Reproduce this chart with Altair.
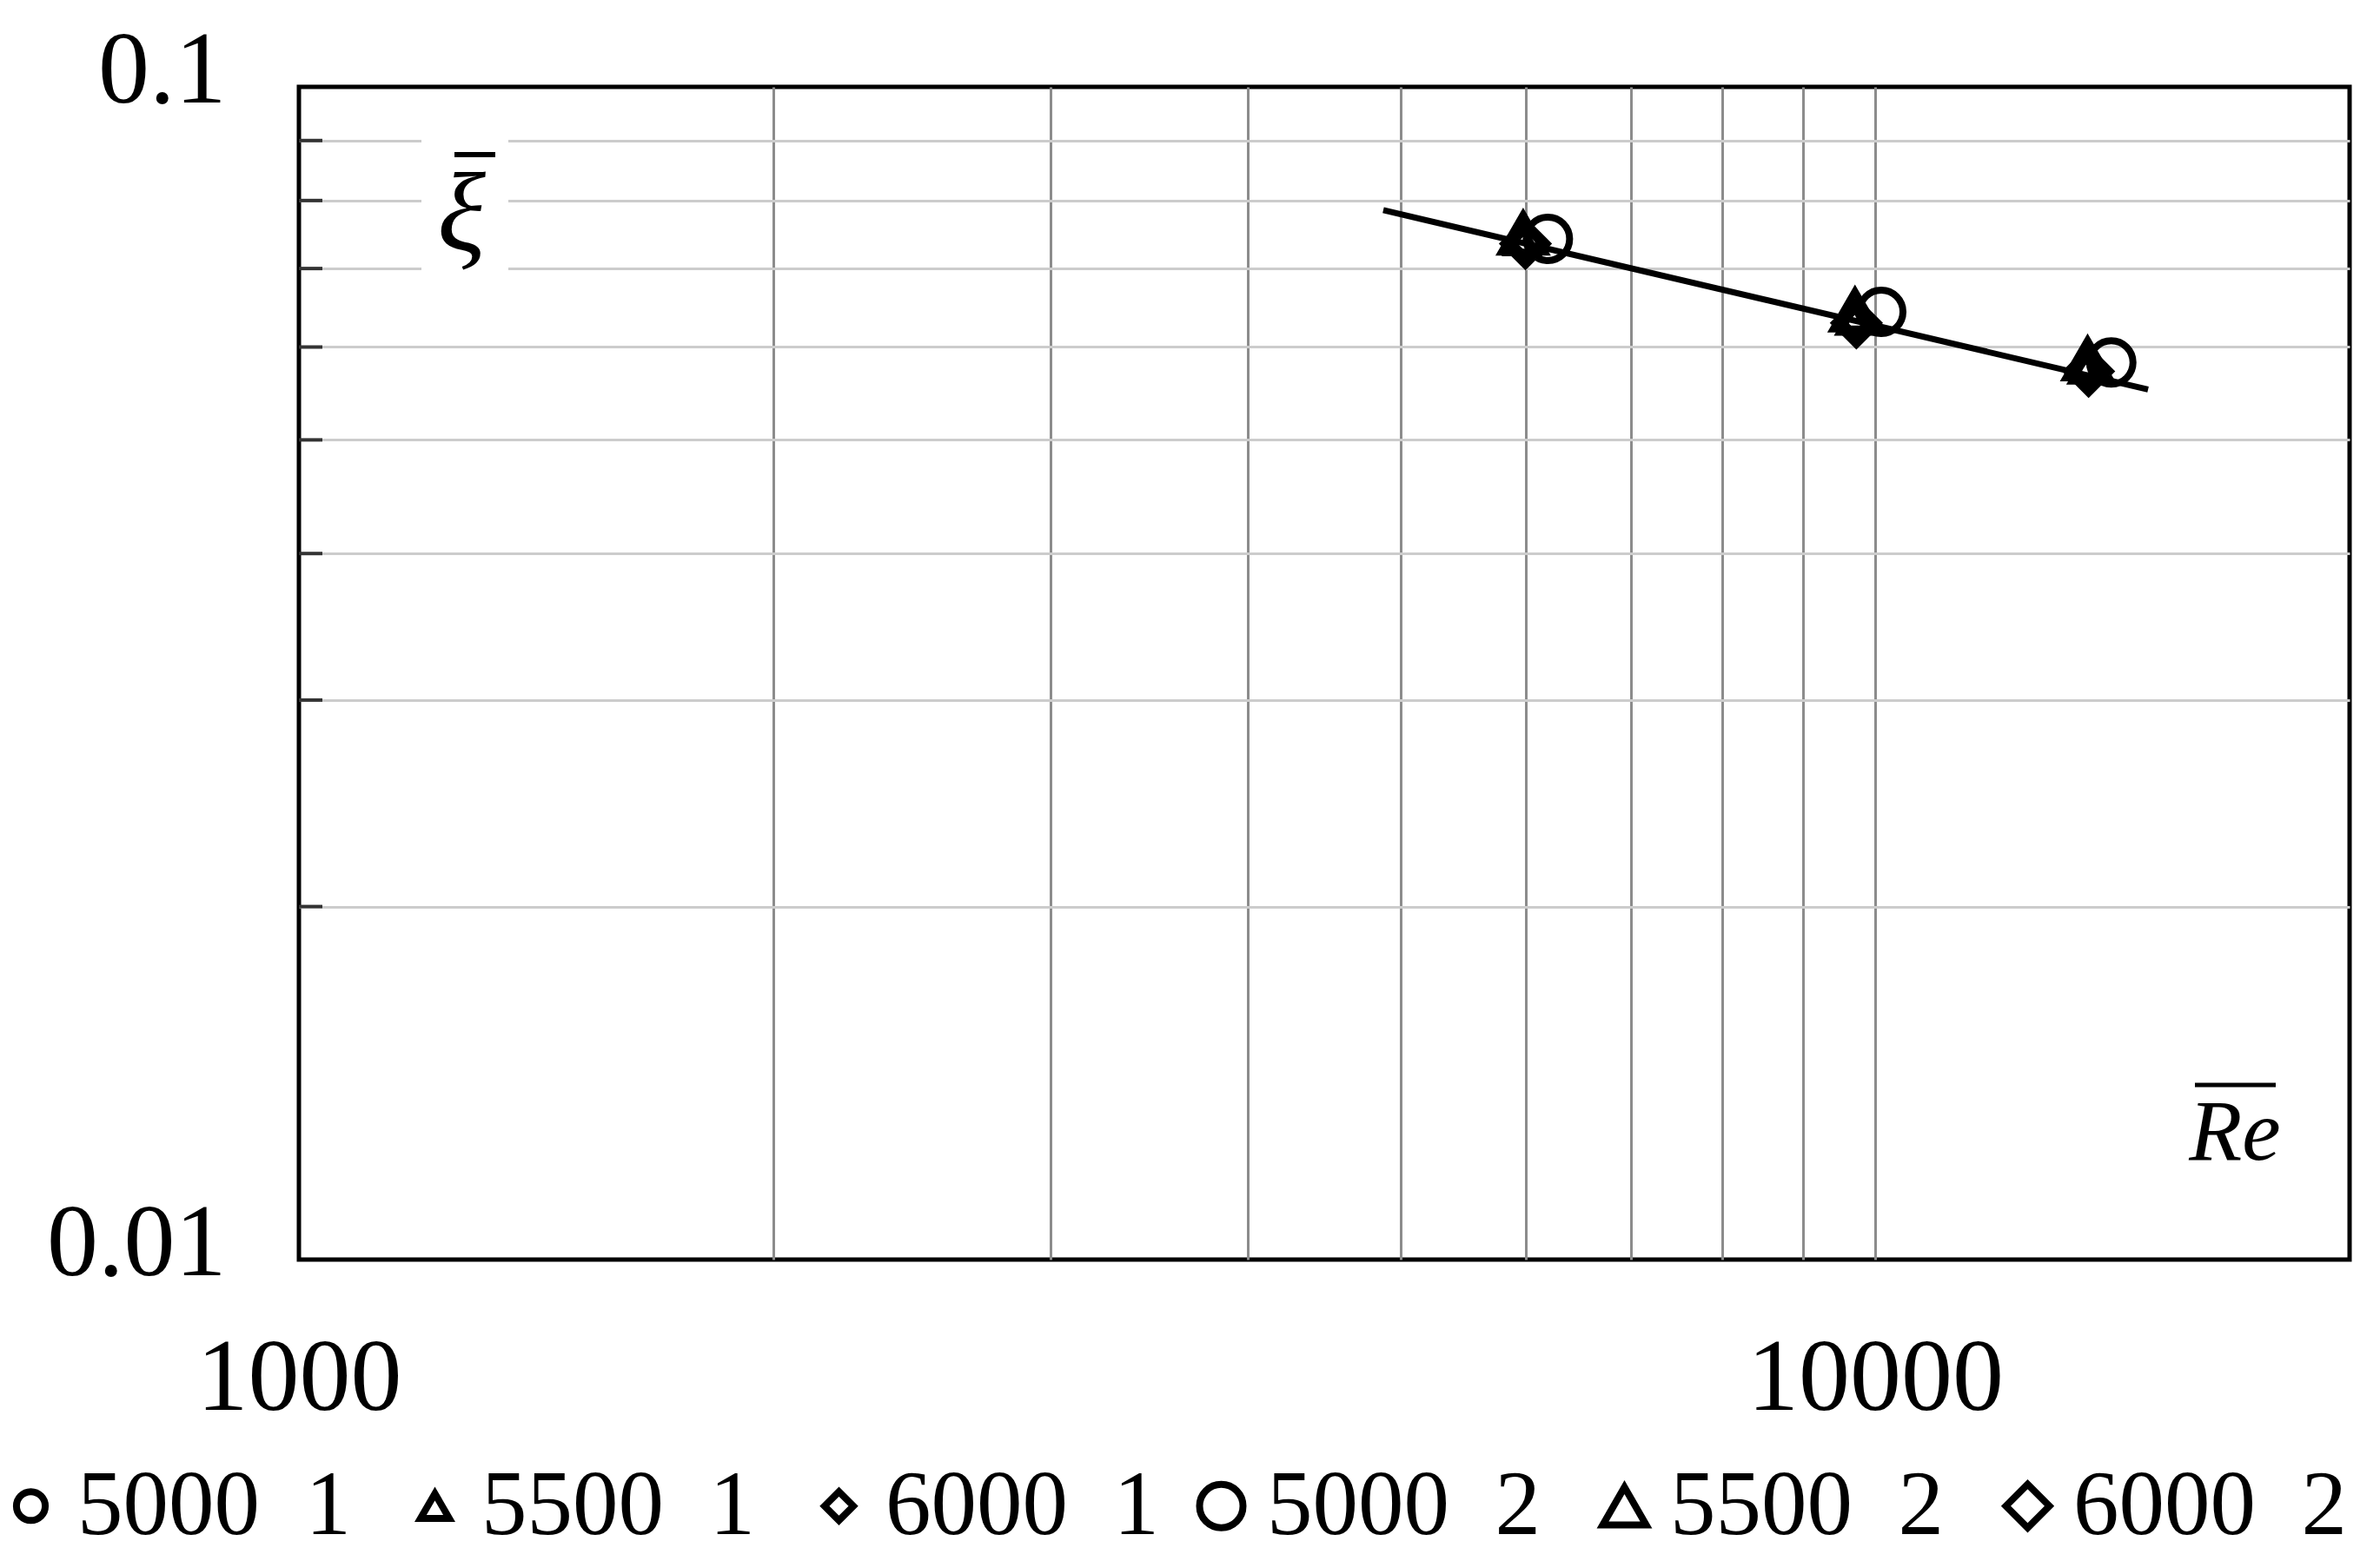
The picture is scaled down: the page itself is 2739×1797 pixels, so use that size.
import altair as alt
import pandas as pd

# ---- data ----
series_set1 = ["5000\u20021", "5500\u20021", "6000\u20021"]
series_set2 = ["5000\u20022", "5500\u20022", "6000\u20022"]
shapes_set = ["circle", "triangle-up", "diamond"]

re_5000_1 = [5990, 9720, 13650]
xi_5000_1 = [0.0737, 0.0631, 0.0573]
re_5500_1 = [5970, 9700, 13620]
xi_5500_1 = [0.0740, 0.0633, 0.0575]
re_6000_1 = [6010, 9740, 13670]
xi_6000_1 = [0.0736, 0.0630, 0.0572]
re_5000_2 = [6200, 10090, 14120]
xi_5000_2 = [0.0742, 0.0643, 0.0582]
re_5500_2 = [5980, 9710, 13640]
xi_5500_2 = [0.0750, 0.0645, 0.0586]
re_6000_2 = [6000, 9730, 13660]
xi_6000_2 = [0.0735, 0.0629, 0.0572]

re_fit = [4875, 14900]
xi_fit = [0.0785, 0.0552]

x_grid_vals = [1000, 2000, 3000, 4000, 5000, 6000, 7000, 8000, 9000, 10000]
y_grid_vals = [0.01, 0.02, 0.03, 0.04, 0.05, 0.06, 0.07, 0.08, 0.09, 0.1]
y_minor_ticks = [0.02, 0.03, 0.04, 0.05, 0.06, 0.07, 0.08, 0.09]


def long_frame(names, res_list, xi_list):
    rows = []
    for name, res, xis in zip(names, res_list, xi_list):
        for r, v in zip(res, xis):
            rows.append({"series": name, "Re": r, "xi": v})
    return pd.DataFrame(rows)


pts1 = long_frame(series_set1, [re_5000_1, re_5500_1, re_6000_1], [xi_5000_1, xi_5500_1, xi_6000_1])
pts2 = long_frame(series_set2, [re_5000_2, re_5500_2, re_6000_2], [xi_5000_2, xi_5500_2, xi_6000_2])
fit = pd.DataFrame({"Re": re_fit, "xi": xi_fit})
ticks_df = pd.DataFrame({"xi": y_minor_ticks})
one = pd.DataFrame({"k": [0]})

FONT = "Liberation Serif"
SMALL = 1100
BIG = 2500
SW = 8

x_scale = alt.Scale(type="log", domain=[1000, 20000], nice=False)
y_scale = alt.Scale(type="log", domain=[0.01, 0.1], nice=False)

x_axis = alt.Axis(
    values=x_grid_vals, title=None, ticks=False, domain=False,
    labelExpr="datum.value == 1000 ? '1000' : (datum.value == 10000 ? '10000' : '')",
    labelFont=FONT, labelFontSize=118, labelColor="black", labelPadding=79,
    labelFlush=False, labelOverlap=False, labelLimit=0,
    grid=True, gridColor="#8c8c8c", gridWidth=3,
    gridOpacity={"condition": {"test": "datum.value == 1000", "value": 0}, "value": 1},
)
y_axis = alt.Axis(
    values=y_grid_vals, title=None, ticks=False, domain=False,
    labelExpr="datum.value > 0.095 ? '0.1' : (datum.value < 0.015 ? '0.01' : '')",
    labelFont=FONT, labelFontSize=118, labelColor="black", labelPadding=84,
    labelBaseline="alphabetic", labelOffset=17, labelOverlap=False, labelLimit=0,
    grid=True, gridColor="#cccccc", gridWidth=3,
    gridOpacity={"condition": {"test": "datum.value > 0.095 || datum.value < 0.015", "value": 0}, "value": 1},
)


def make_legend(x, size, offset, colpad):
    return alt.Legend(
        title=None, orient="none", legendX=x, legendY=1581,
        direction="horizontal", columns=3, columnPadding=colpad,
        labelFont=FONT, labelFontSize=105, labelColor="black", labelLimit=0,
        labelOffset=offset, symbolSize=size, symbolStrokeWidth=SW,
        symbolStrokeColor="black", symbolFillColor="transparent",
        symbolOpacity=1, padding=0, rowPadding=0,
    )


points1 = alt.Chart(pts1).mark_point(filled=False, color="black", strokeWidth=SW, size=SMALL, opacity=1).encode(
    x=alt.X("Re:Q", scale=x_scale, axis=x_axis),
    y=alt.Y("xi:Q", scale=y_scale, axis=y_axis),
    shape=alt.Shape("series:N", scale=alt.Scale(domain=series_set1, range=shapes_set),
                    legend=make_legend(-361, SMALL, 1, 44), sort=series_set1),
)
points2 = alt.Chart(pts2).mark_point(filled=False, color="black", strokeWidth=SW, size=BIG, opacity=1).encode(
    x=alt.X("Re:Q", scale=x_scale, axis=x_axis),
    y=alt.Y("xi:Q", scale=y_scale, axis=y_axis),
    shape=alt.Shape("series:N", scale=alt.Scale(domain=series_set2, range=shapes_set),
                    legend=make_legend(1009, BIG, 0, 44), sort=series_set2),
)

line = alt.Chart(fit).mark_line(color="black", strokeWidth=7).encode(
    x=alt.X("Re:Q", scale=x_scale, axis=x_axis),
    y=alt.Y("xi:Q", scale=y_scale, axis=y_axis),
)

minor = alt.Chart(ticks_df).mark_rule(color="#333333", strokeWidth=4).encode(
    y=alt.Y("xi:Q", scale=y_scale, axis=y_axis),
    x=alt.value(0), x2=alt.value(27),
)

gap = alt.Chart(one).mark_rect(color="white").encode(
    x=alt.value(141), x2=alt.value(241), y=alt.value(45), y2=alt.value(225),
)
xi_label = alt.Chart(one).mark_text(
    text="ξ", font=FONT, fontSize=130, fontStyle="italic", color="black",
    align="center", baseline="alphabetic",
).encode(x=alt.value(187), y=alt.value(188))
xi_bar = alt.Chart(one).mark_rule(color="black", strokeWidth=6).encode(
    x=alt.value(179), x2=alt.value(226), y=alt.value(78),
)
re_label = alt.Chart(one).mark_text(
    text="Re", font=FONT, fontSize=100, fontStyle="italic", color="black",
    align="center", baseline="alphabetic",
).encode(x=alt.value(2228), y=alt.value(1235))
re_bar = alt.Chart(one).mark_rule(color="black", strokeWidth=5).encode(
    x=alt.value(2182), x2=alt.value(2275), y=alt.value(1149),
)

chart = alt.layer(
    minor, gap, xi_label, xi_bar, re_label, re_bar, line, points1, points2
).resolve_scale(
    shape="independent"
).resolve_legend(
    shape="independent"
).properties(
    width=2360, height=1350,
    autosize=alt.AutoSizeParams(type="none"),
    padding={"left": 336, "top": 92, "right": 20, "bottom": 338},
    background="white",
).configure_view(
    stroke="black", strokeWidth=5,
)

chart.save("out.html", embed_options={"renderer": "svg", "actions": False})
